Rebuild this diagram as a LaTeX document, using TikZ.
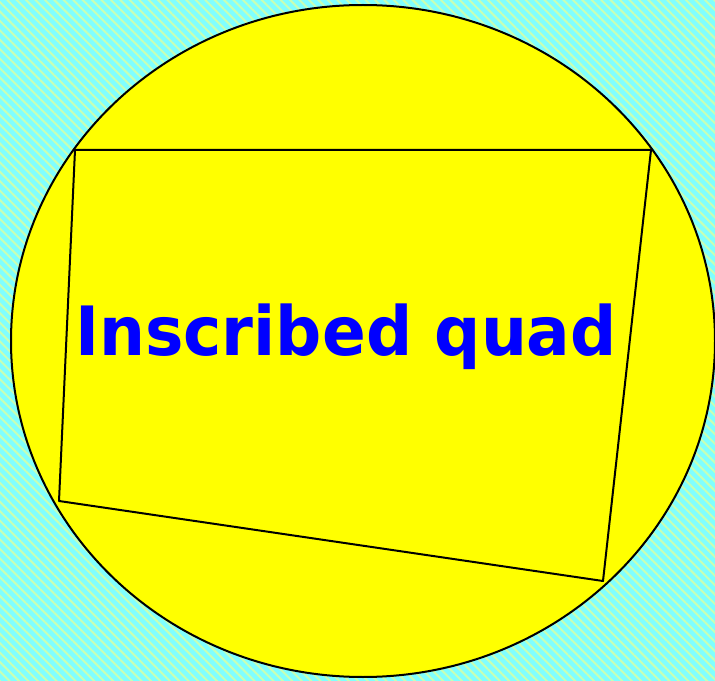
\documentclass[tikz,border=0pt]{standalone}
\usepackage{fontspec}
\newfontfamily\quadfont{DejaVu Sans}
\usetikzlibrary{patterns.meta}
\definecolor{bgcyan}{RGB}{128,255,255}
\definecolor{bgstripe}{RGB}{200,255,180}
\definecolor{circyellow}{RGB}{255,255,0}
\definecolor{textblue}{RGB}{0,0,255}

\begin{document}
\begin{tikzpicture}[x=0.75pt,y=-0.75pt,line join=round]
		\tikzstyle{backdrop}=[fill=bgcyan]
		\tikzstyle{stripes}=[pattern={Lines[angle=-45,distance=5pt,line width=1.5pt]},pattern color=bgstripe]
		\tikzstyle{disc}=[draw=black,fill=circyellow,line width=1.5pt]
		\tikzstyle{quad}=[draw=black,line width=1.5pt]
		\tikzstyle{title}=[text=textblue,font=\quadfont\bfseries\fontsize{51}{54}\selectfont,inner sep=0pt]
		
		\useasboundingbox (0,0) rectangle (715,681);
		\fill[backdrop] (0,0) rectangle (715,681);
		\fill[stripes] (0,0) rectangle (715,681);
		
		\draw[disc] (363,341) ellipse [x radius=352, y radius=336];
		
		\coordinate (qa) at (75,150);
		\coordinate (qb) at (651,150);
		\coordinate (qc) at (603,581);
		\coordinate (qd) at (59,501);
		\draw[quad] (qa) -- (qb) -- (qc) -- (qd) -- cycle;
		
		\node[title,xscale=0.95] (label_quad) at (346,337) {Inscribed quad};
	\end{tikzpicture}
\end{document}
